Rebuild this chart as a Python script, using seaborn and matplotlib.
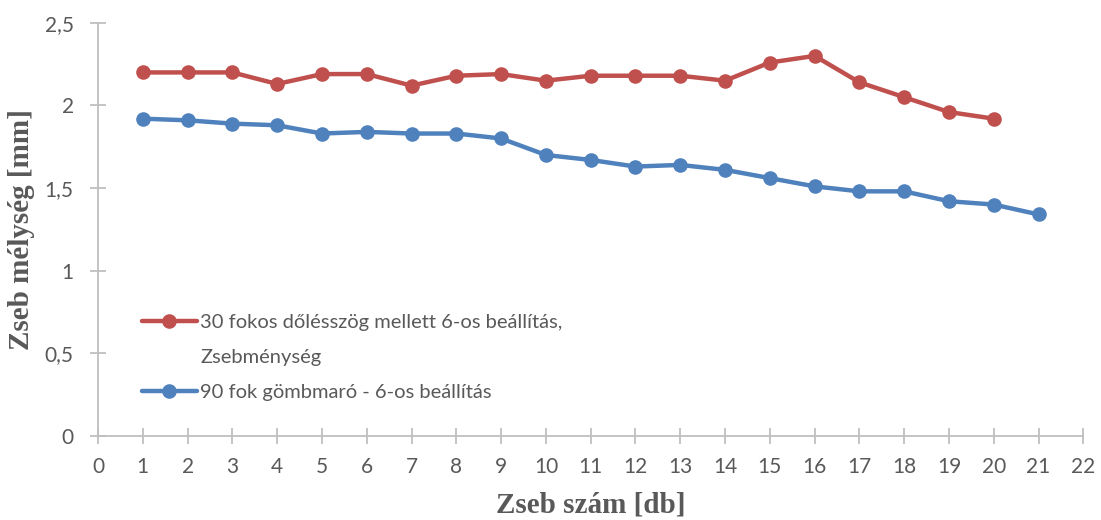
import matplotlib
matplotlib.use("Agg")
import matplotlib.pyplot as plt
from matplotlib.lines import Line2D
from matplotlib.ticker import FuncFormatter, MultipleLocator
import seaborn as sns
import pandas as pd

# Pocket numbers and measured pocket depths [mm]
pockets_30 = list(range(1, 21))
depth_30 = [2.20, 2.20, 2.20, 2.13, 2.19, 2.19, 2.12, 2.18, 2.19, 2.15,
            2.18, 2.18, 2.18, 2.15, 2.26, 2.30, 2.14, 2.05, 1.96, 1.92]
pockets_90 = list(range(1, 22))
depth_90 = [1.92, 1.91, 1.89, 1.88, 1.83, 1.84, 1.83, 1.83, 1.80, 1.70,
            1.67, 1.63, 1.64, 1.61, 1.56, 1.51, 1.48, 1.48, 1.42, 1.40, 1.34]
label_30 = ["30 fokos dőlésszög mellett 6-os beállítás,", "Zsebménység"]
label_90 = "90 fok gömbmaró - 6-os beállítás"

sns.set_theme(style="white")
plt.rcParams["font.family"] = ["Lato", "DejaVu Sans"]

axis_grey = "#BFBFBF"
text_grey = "#595959"
red = "#C0504D"
blue = "#4F81BD"

fig = plt.figure(figsize=(11.01, 5.20), dpi=100)
ax = fig.add_axes([0.089, 0.162, 0.895, 0.794])

df30 = pd.DataFrame({"x": pockets_30, "y": depth_30})
df90 = pd.DataFrame({"x": pockets_90, "y": depth_90})

sns.lineplot(data=df30, x="x", y="y", ax=ax, color=red, linewidth=3.2,
             marker="o", markersize=10.5, markeredgewidth=0, label=label_30[0])
sns.lineplot(data=df90, x="x", y="y", ax=ax, color=blue, linewidth=3.2,
             marker="o", markersize=10.5, markeredgewidth=0, label=label_90)

ax.set_xlim(0, 22)
ax.set_ylim(0, 2.5)
ax.xaxis.set_major_locator(MultipleLocator(1))
ax.yaxis.set_major_locator(MultipleLocator(0.5))
ax.yaxis.set_major_formatter(
    FuncFormatter(lambda v, _: f"{v:g}".replace(".", ",")))

for side in ("top", "right"):
    ax.spines[side].set_visible(False)
for side in ("left", "bottom"):
    ax.spines[side].set_color(axis_grey)
    ax.spines[side].set_linewidth(1.3)

ax.tick_params(axis="both", which="major", direction="inout", length=11,
               width=1.3, color=axis_grey, labelcolor=text_grey,
               labelsize=15, pad=10)
ax.tick_params(axis="x", bottom=True)
ax.tick_params(axis="y", left=True, pad=12)

ax.set_xlabel("Zseb szám [db]", fontsize=21, fontweight="bold",
              family="Liberation Serif", color=text_grey, labelpad=10)
ax.set_ylabel("Zseb mélység [mm]", fontsize=21, fontweight="bold",
              family="Liberation Serif", color=text_grey, labelpad=7)

# Legend: the first series label wraps onto a second row without a marker
handles, labels = ax.get_legend_handles_labels()
blank = Line2D([], [], color="none")
leg = ax.legend([handles[0], blank, handles[1]],
                [labels[0], label_30[1], labels[1]],
                loc="upper left", bbox_to_anchor=(0.026, 0.34),
                frameon=False, fontsize=14.5, handlelength=2.75,
                handletextpad=0.15, labelspacing=0.9)
for t in leg.get_texts():
    t.set_color(text_grey)

fig.savefig("out.png", dpi=100)
